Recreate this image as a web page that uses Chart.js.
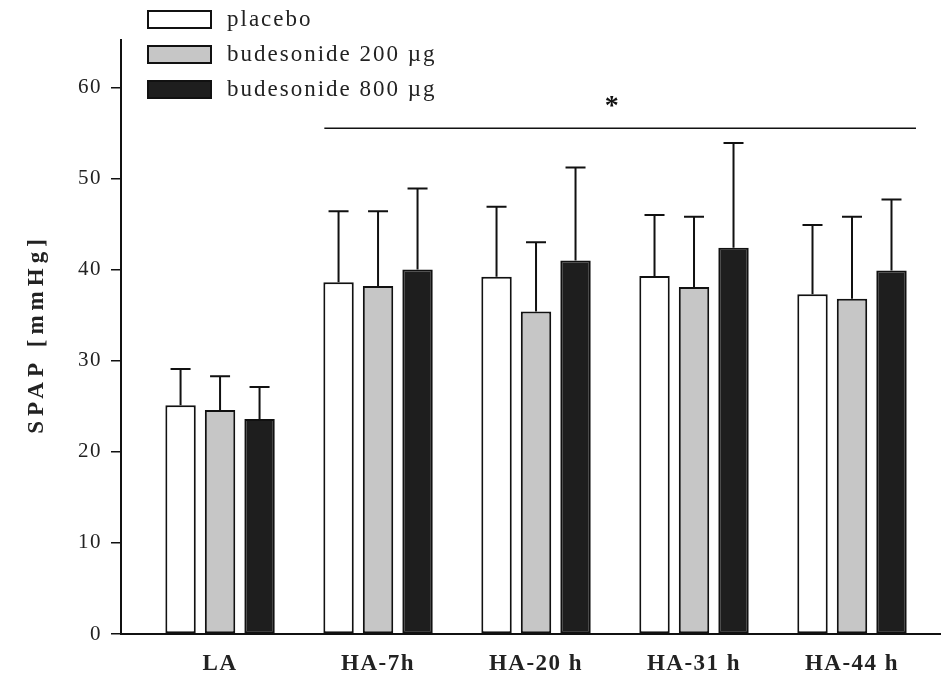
<!DOCTYPE html>
<html>
<head>
<meta charset="utf-8">
<title>SPAP</title>
<script src="https://cdn.jsdelivr.net/npm/chart.js@4.4.1/dist/chart.umd.min.js"></script>
<style>
  body { margin: 0; background: #fff; }
  #wrap { width: 951px; height: 677px; }
</style>
</head>
<body>
<div id="wrap"><canvas id="spapChart"></canvas></div>
<script>
"use strict"

// Messzeitpunkte (LA = low altitude, HA = high altitude)
const categories = ['LA', 'HA-7h', 'HA-20 h', 'HA-31 h', 'HA-44 h'];

// Mittelwerte SPAP [mmHg]
const placebo = [25.1, 38.6, 39.2, 39.3, 37.3];
const bud200 = [24.6, 38.2, 35.4, 38.1, 36.8];
const bud800 = [23.6, 40.0, 41.0, 42.4, 39.9];

// Standardabweichung (nur nach oben gezeichnet)
const placeboSD = [4.0, 7.8, 7.7, 6.7, 7.6];
const bud200SD = [3.7, 8.2, 7.6, 7.7, 9.0];
const bud800SD = [3.5, 8.9, 10.2, 11.5, 7.8];

const yTicks = [0, 10, 20, 30, 40, 50, 60];

// Signifikanzbalken über den HA-Gruppen
const sigLevel = 55.5;
const sigFrom = 0.66;
const sigTo = 4.405;
const sigStarAt = 2.48;

Chart.defaults.font.family = "'Liberation Serif', 'Times New Roman', serif";
Chart.defaults.color = '#222';

function toPoints(values) {
    return values.map((v, i) => ({ x: i, y: v }));
}

// Hintergrund + Sperrsatz für die Achsenbeschriftung
const pagePlugin = {
    id: 'page',
    beforeDraw(chart) {
        const ctx = chart.ctx;
        ctx.fillStyle = '#fff';
        ctx.fillRect(0, 0, chart.width, chart.height);
        ctx.letterSpacing = '1.5px';
    },
    afterDraw(chart) {
        chart.ctx.letterSpacing = '0px';
    }
};

// Fehlerbalken, Signifikanzlinie, Legende und y-Titel
const extrasPlugin = {
    id: 'extras',
    afterDatasetsDraw(chart) {
        const ctx = chart.ctx;
        const x = chart.scales.x;
        const y = chart.scales.y;

        ctx.save();
        ctx.strokeStyle = '#111';
        ctx.lineWidth = 2;
        chart.data.datasets.forEach((ds, i) => {
            const meta = chart.getDatasetMeta(i);
            meta.data.forEach((bar, j) => {
                const top = y.getPixelForValue(ds.data[j].y);
                const end = y.getPixelForValue(ds.data[j].y + ds.sd[j]);
                ctx.beginPath();
                ctx.moveTo(bar.x, top);
                ctx.lineTo(bar.x, end);
                ctx.moveTo(bar.x - 10, end);
                ctx.lineTo(bar.x + 10, end);
                ctx.stroke();
            });
        });

        // Signifikanz
        const sy = y.getPixelForValue(sigLevel);
        ctx.lineWidth = 1.5;
        ctx.beginPath();
        ctx.moveTo(x.getPixelForValue(sigFrom), sy);
        ctx.lineTo(x.getPixelForValue(sigTo), sy);
        ctx.stroke();
        ctx.fillStyle = '#111';
        ctx.font = "bold 28px 'Liberation Serif', serif";
        ctx.textAlign = 'center';
        ctx.textBaseline = 'middle';
        ctx.letterSpacing = '0px';
        ctx.fillText('*', x.getPixelForValue(sigStarAt), sy - 22);

        // Legende oben links
        ctx.font = "23px 'Liberation Serif', serif";
        ctx.letterSpacing = '2px';
        ctx.textAlign = 'left';
        chart.data.datasets.forEach((ds, i) => {
            const cy = 19 + i * 35;
            ctx.fillStyle = ds.backgroundColor;
            ctx.fillRect(148, cy - 8, 63, 17);
            ctx.lineWidth = 2;
            ctx.strokeStyle = '#111';
            ctx.strokeRect(148, cy - 8, 63, 17);
            ctx.fillStyle = '#222';
            ctx.fillText(ds.label, 227, cy + 1);
        });

        // y-Achsentitel
        ctx.translate(37, (chart.chartArea.top + chart.chartArea.bottom) / 2);
        ctx.rotate(-Math.PI / 2);
        ctx.font = "bold 23px 'Liberation Serif', serif";
        ctx.letterSpacing = '5px';
        ctx.textAlign = 'center';
        ctx.fillText('SPAP [mmHg]', 3, 0);
        ctx.restore();
    }
};

const config = {
    type: 'bar',
    data: {
        datasets: [
            { label: 'placebo', data: toPoints(placebo), sd: placeboSD, backgroundColor: '#ffffff' },
            { label: 'budesonide 200 µg', data: toPoints(bud200), sd: bud200SD, backgroundColor: '#c6c6c6' },
            { label: 'budesonide 800 µg', data: toPoints(bud800), sd: bud800SD, backgroundColor: '#1e1e1e' }
        ]
    },
    options: {
        responsive: true,
        maintainAspectRatio: false,
        animation: false,
        layout: { padding: { top: 40, right: 11, left: 0, bottom: 0 } },
        datasets: {
            bar: {
                borderColor: '#111',
                borderWidth: 2,
                borderSkipped: false,
                categoryPercentage: 0.75,
                barPercentage: 0.77
            }
        },
        plugins: {
            legend: { display: false },
            tooltip: { enabled: false }
        },
        scales: {
            x: {
                type: 'linear',
                offset: false,
                min: -0.627,
                max: 4.557,
                afterFit(scale) { scale.height = 43; },
                grid: { display: false, drawTicks: false },
                border: { display: true, color: '#111', width: 2 },
                ticks: {
                    stepSize: 1,
                    includeBounds: false,
                    autoSkip: false,
                    maxRotation: 0,
                    padding: 16,
                    color: '#222',
                    font: { size: 23, weight: 'bold' },
                    callback: (v) => Number.isInteger(v) ? categories[v] : ''
                }
            },
            y: {
                min: 0,
                max: 65.2,
                afterFit(scale) { scale.width = 121; },
                afterBuildTicks(scale) { scale.ticks = yTicks.map(v => ({ value: v })); },
                grid: { drawOnChartArea: false, drawTicks: true, tickLength: 10, color: '#111', lineWidth: 1.5 },
                border: { display: true, color: '#111', width: 2 },
                ticks: {
                    padding: 9,
                    color: '#222',
                    font: { size: 21 }
                }
            }
        }
    },
    plugins: [pagePlugin, extrasPlugin]
};

new Chart(document.getElementById('spapChart'), config);
</script>
</body>
</html>
